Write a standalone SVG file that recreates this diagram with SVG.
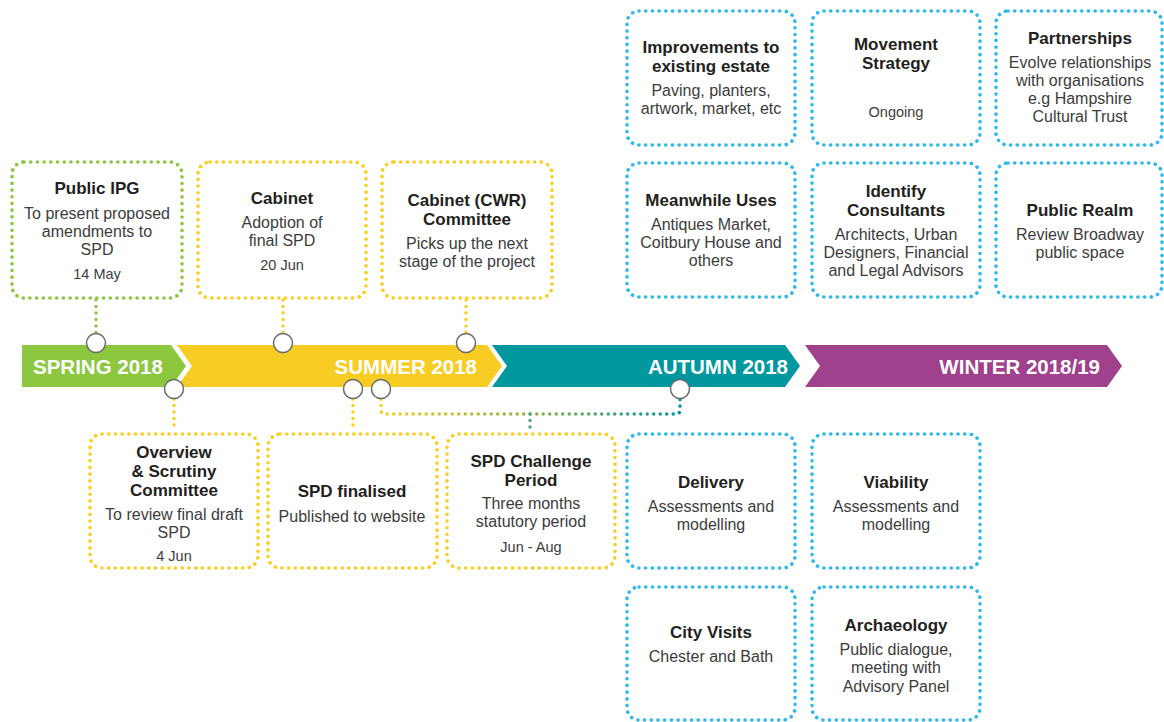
<svg xmlns="http://www.w3.org/2000/svg" width="1164" height="722" viewBox="0 0 1164 722">
<defs>
<style>
.box{fill:#fff;stroke-width:3.6;stroke-linecap:round;stroke-dasharray:0.1 6.6;}
.g{stroke:#8DC63F}.y{stroke:#F9CE1F}.b{stroke:#2DB8EC}
text{font-family:"Liberation Sans",Arial,sans-serif;text-anchor:middle;}
.t{font-weight:bold;font-size:17px;fill:#231f20;}
.s{font-size:16px;fill:#3c3c3c;}
.d{font-size:14.5px;fill:#3c3c3c;}
.bar{font-weight:bold;font-size:20.5px;fill:#fff;}
.con{fill:none;stroke-width:3.4;stroke-linecap:round;stroke-dasharray:0.1 6.4;}
.dot{fill:#fff;stroke:#6b6b6b;stroke-width:1.5;}
</style>
<linearGradient id="gr" gradientUnits="userSpaceOnUse" x1="381" y1="0" x2="680" y2="0">
<stop offset="0" stop-color="#F9CE1F"/><stop offset="0.5" stop-color="#8DB34A"/><stop offset="1" stop-color="#00969F"/>
</linearGradient>
</defs>
<rect width="1164" height="722" fill="#fff"/>

<g id="timeline">
<polygon points="22,345 171,345 186,366 171,387 22,387" fill="#8DC63F"/>
<polygon points="177,345 487,345 502,366 487,387 177,387 192,366" fill="#F8CD23"/>
<polygon points="492,345 785,345 800,366 785,387 492,387 507,366" fill="#00979F"/>
<polygon points="805,345 1107,345 1122,366 1107,387 805,387 820,366" fill="#A0418D"/>
<text class="bar" x="33" y="374" style="text-anchor:start">SPRING 2018</text>
<text class="bar" x="477" y="374" style="text-anchor:end">SUMMER 2018</text>
<text class="bar" x="788" y="374" style="text-anchor:end">AUTUMN 2018</text>
<text class="bar" x="1100" y="374" style="text-anchor:end">WINTER 2018/19</text>
</g>

<g id="connectors">
<path class="con g" d="M96,300 V333"/>
<path class="con y" d="M283,300 V333"/>
<path class="con y" d="M466,300 V333"/>
<path class="con y" d="M174,399 V431"/>
<path class="con y" d="M353,399 V431"/>
<path class="con" stroke="url(#gr)" d="M381,399 V410 Q381,414 385,414 H676 Q680,414 680,410 V399"/>
<path class="con" stroke="#4FA27A" d="M530,414 V431"/>
</g>

<g id="markers">
<circle class="dot" cx="96" cy="343" r="9.5"/>
<circle class="dot" cx="283" cy="343" r="9.5"/>
<circle class="dot" cx="466" cy="343" r="9.5"/>
<circle class="dot" cx="174" cy="389" r="9.5"/>
<circle class="dot" cx="353" cy="389" r="9.5"/>
<circle class="dot" cx="381" cy="389" r="9.5"/>
<circle class="dot" cx="680" cy="389" r="9.5"/>
</g>

<g id="public-ipg">
<rect class="box g" x="12" y="162" width="170" height="136" rx="12"/>
<text class="t" x="97" y="194">Public IPG</text>
<text class="s" x="97" y="219">To present proposed</text>
<text class="s" x="97" y="237">amendments to</text>
<text class="s" x="97" y="255">SPD</text>
<text class="d" x="97" y="279">14 May</text>
</g>
<g id="cabinet">
<rect class="box y" x="198" y="162" width="168" height="136" rx="12"/>
<text class="t" x="282" y="204">Cabinet</text>
<text class="s" x="282" y="228">Adoption of</text>
<text class="s" x="282" y="246">final SPD</text>
<text class="d" x="282" y="270">20 Jun</text>
</g>
<g id="cabinet-cwr">
<rect class="box y" x="382" y="162" width="170" height="136" rx="12"/>
<text class="t" x="467" y="206">Cabinet (CWR)</text>
<text class="t" x="467" y="225">Committee</text>
<text class="s" x="467" y="249">Picks up the next</text>
<text class="s" x="467" y="267">stage of the project</text>
</g>

<g id="overview">
<rect class="box y" x="90" y="434" width="168" height="134" rx="12"/>
<text class="t" x="174" y="458">Overview</text>
<text class="t" x="174" y="477">&amp; Scrutiny</text>
<text class="t" x="174" y="496">Committee</text>
<text class="s" x="174" y="520">To review final draft</text>
<text class="s" x="174" y="538">SPD</text>
<text class="d" x="174" y="561">4 Jun</text>
</g>
<g id="spd-finalised">
<rect class="box y" x="268" y="434" width="169" height="134" rx="12"/>
<text class="t" x="352" y="497">SPD finalised</text>
<text class="s" x="352" y="522">Published to website</text>
</g>
<g id="spd-challenge">
<rect class="box y" x="447" y="434" width="168" height="134" rx="12"/>
<text class="t" x="531" y="467">SPD Challenge</text>
<text class="t" x="531" y="486">Period</text>
<text class="s" x="531" y="509">Three months</text>
<text class="s" x="531" y="527">statutory period</text>
<text class="d" x="531" y="552">Jun - Aug</text>
</g>

<g id="improvements">
<rect class="box b" x="627" y="11" width="168" height="134" rx="12"/>
<text class="t" x="711" y="53">Improvements to</text>
<text class="t" x="711" y="72">existing estate</text>
<text class="s" x="711" y="96">Paving, planters,</text>
<text class="s" x="711" y="114">artwork, market, etc</text>
</g>
<g id="movement">
<rect class="box b" x="812" y="11" width="168" height="134" rx="12"/>
<text class="t" x="896" y="50">Movement</text>
<text class="t" x="896" y="69">Strategy</text>
<text class="d" x="896" y="117">Ongoing</text>
</g>
<g id="partnerships">
<rect class="box b" x="996" y="11" width="166" height="134" rx="12"/>
<text class="t" x="1080" y="44">Partnerships</text>
<text class="s" x="1080" y="68">Evolve relationships</text>
<text class="s" x="1080" y="86">with organisations</text>
<text class="s" x="1080" y="104">e.g Hampshire</text>
<text class="s" x="1080" y="122">Cultural Trust</text>
</g>

<g id="meanwhile">
<rect class="box b" x="627" y="163" width="168" height="134" rx="12"/>
<text class="t" x="711" y="206">Meanwhile Uses</text>
<text class="s" x="711" y="230">Antiques Market,</text>
<text class="s" x="711" y="248">Coitbury House and</text>
<text class="s" x="711" y="266">others</text>
</g>
<g id="consultants">
<rect class="box b" x="812" y="163" width="168" height="134" rx="12"/>
<text class="t" x="896" y="197">Identify</text>
<text class="t" x="896" y="216">Consultants</text>
<text class="s" x="896" y="240">Architects, Urban</text>
<text class="s" x="896" y="258">Designers, Financial</text>
<text class="s" x="896" y="276">and Legal Advisors</text>
</g>
<g id="public-realm">
<rect class="box b" x="996" y="163" width="166" height="134" rx="12"/>
<text class="t" x="1080" y="216">Public Realm</text>
<text class="s" x="1080" y="240">Review Broadway</text>
<text class="s" x="1080" y="258">public space</text>
</g>

<g id="delivery">
<rect class="box b" x="627" y="434" width="168" height="134" rx="12"/>
<text class="t" x="711" y="488">Delivery</text>
<text class="s" x="711" y="512">Assessments and</text>
<text class="s" x="711" y="530">modelling</text>
</g>
<g id="viability">
<rect class="box b" x="812" y="434" width="168" height="134" rx="12"/>
<text class="t" x="896" y="488">Viability</text>
<text class="s" x="896" y="512">Assessments and</text>
<text class="s" x="896" y="530">modelling</text>
</g>
<g id="city-visits">
<rect class="box b" x="627" y="587" width="168" height="133" rx="12"/>
<text class="t" x="711" y="638">City Visits</text>
<text class="s" x="711" y="662">Chester and Bath</text>
</g>
<g id="archaeology">
<rect class="box b" x="812" y="587" width="168" height="133" rx="12"/>
<text class="t" x="896" y="631">Archaeology</text>
<text class="s" x="896" y="655">Public dialogue,</text>
<text class="s" x="896" y="673">meeting with</text>
<text class="s" x="896" y="692">Advisory Panel</text>
</g>
</svg>
